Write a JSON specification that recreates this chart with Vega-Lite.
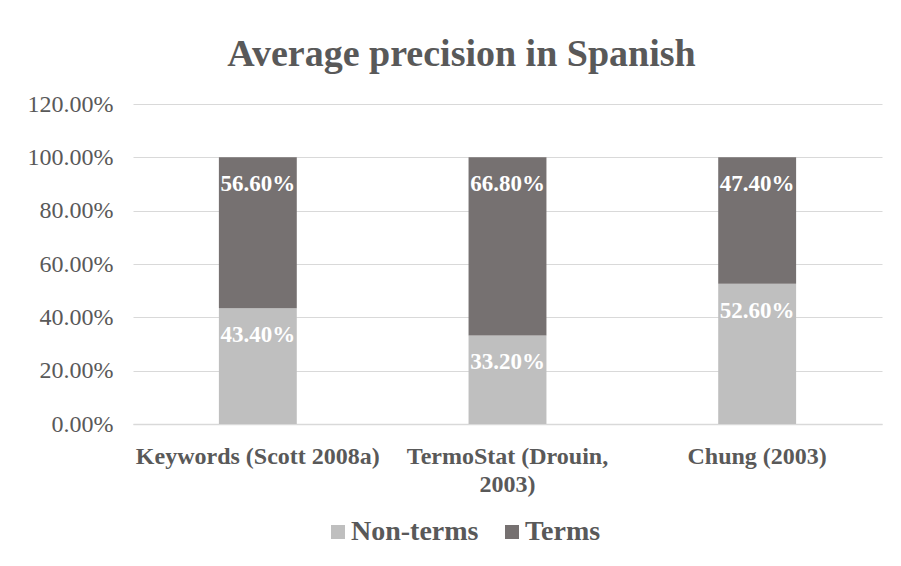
{
  "$schema": "https://vega.github.io/schema/vega-lite/v6.json",
  "width": 749,
  "height": 320,
  "autosize": {"type": "none"},
  "padding": {"left": 133, "top": 104, "right": 19, "bottom": 142},
  "background": "white",
  "title": {
    "text": "Average precision in Spanish",
    "font": "Liberation Serif",
    "fontSize": 38,
    "fontWeight": "bold",
    "color": "#595959",
    "anchor": "middle",
    "frame": "group",
    "dx": -46,
    "dy": 51,
    "baseline": "alphabetic",
    "offset": 39
  },
  "data": {
    "values": [
      {"method": "Keywords (Scott 2008a)", "type": "Non-terms", "value": 0.434, "ord": 1},
      {"method": "Keywords (Scott 2008a)", "type": "Terms", "value": 0.566, "ord": 2},
      {"method": "TermoStat (Drouin, 2003)", "type": "Non-terms", "value": 0.332, "ord": 1},
      {"method": "TermoStat (Drouin, 2003)", "type": "Terms", "value": 0.668, "ord": 2},
      {"method": "Chung (2003)", "type": "Non-terms", "value": 0.526, "ord": 1},
      {"method": "Chung (2003)", "type": "Terms", "value": 0.474, "ord": 2}
    ]
  },
  "encoding": {
    "x": {
      "field": "method",
      "type": "nominal",
      "sort": null,
      "scale": {"paddingInner": 0.688, "paddingOuter": 0.344},
      "axis": {
        "title": null,
        "labelAngle": 0,
        "labelFont": "Liberation Serif",
        "labelFontSize": 24,
        "labelFontWeight": "bold",
        "labelColor": "#595959",
        "labelBaseline": "alphabetic",
        "labelPadding": 39,
        "labelLineHeight": 28,
        "labelLimit": 400,
        "ticks": false,
        "tickSize": 0,
        "domainColor": "#d9d9d9",
        "domainWidth": 1.5,
        "labelExpr": "datum.label == 'TermoStat (Drouin, 2003)' ? ['TermoStat (Drouin,', '2003)'] : datum.label"
      }
    },
    "y": {
      "field": "value",
      "type": "quantitative",
      "stack": "zero",
      "scale": {"domain": [0, 1.2]},
      "axis": {
        "title": null,
        "format": ".2%",
        "values": [0, 0.2, 0.4, 0.6, 0.8, 1.0, 1.2],
        "labelFont": "Liberation Serif",
        "labelFontSize": 24,
        "labelColor": "#595959",
        "labelPadding": 20,
        "ticks": false,
        "tickSize": 0,
        "domain": false,
        "grid": true,
        "gridColor": "#d9d9d9",
        "gridWidth": 1.2
      }
    },
    "order": {"field": "ord", "type": "quantitative"}
  },
  "layer": [
    {
      "mark": {"type": "bar"},
      "encoding": {
        "color": {
          "field": "type",
          "type": "nominal",
          "scale": {"domain": ["Non-terms", "Terms"], "range": ["#bfbfbf", "#767171"]},
          "legend": {
            "title": null,
            "orient": "none",
            "direction": "horizontal",
            "legendX": 191,
            "legendY": 414,
            "symbolType": "square",
            "symbolSize": 196,
            "symbolStrokeWidth": 0,
            "symbolOpacity": 1,
            "labelFont": "Liberation Serif",
            "labelFontSize": 28,
            "labelFontWeight": "bold",
            "labelColor": "#595959",
            "labelOffset": -1,
            "columnPadding": 19
          }
        }
      }
    },
    {
      "mark": {
        "type": "text",
        "font": "Liberation Serif",
        "fontSize": 23,
        "fontWeight": "bold",
        "color": "white",
        "baseline": "alphabetic",
        "align": "center",
        "dy": 34
      },
      "encoding": {
        "detail": {"field": "type"},
        "text": {"field": "value", "type": "quantitative", "format": ".2%"}
      }
    }
  ],
  "config": {"view": {"stroke": null}}
}
